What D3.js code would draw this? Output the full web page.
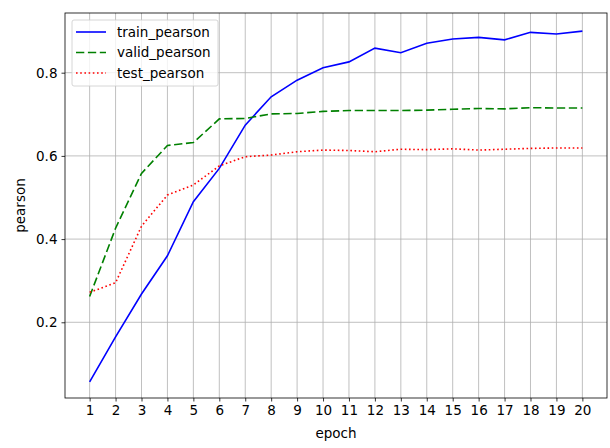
<!DOCTYPE html>
<html>
<head>
<meta charset="utf-8">
<script src="https://cdn.jsdelivr.net/npm/d3@7"></script>
<style>
    body { margin: 0; background: #fff; }
    svg text { font-family: 'DejaVu Sans', sans-serif; fill: #000; }
    .tick text { font-size: 13.5px; }
    .axis-label { font-size: 13.5px; }
    .legend text { font-size: 13.5px; }
</style>
</head>
<body>
<div id="vis"></div>
<script>
const epochs = d3.range(1, 21);

const trainPearson = [0.057, 0.165, 0.268, 0.360, 0.490, 0.570, 0.674, 0.742, 0.782, 0.812,
    0.826, 0.859, 0.848, 0.871, 0.881, 0.885, 0.879, 0.897, 0.893, 0.900];
const validPearson = [0.262, 0.426, 0.558, 0.625, 0.632, 0.689, 0.690, 0.701, 0.702, 0.707,
    0.709, 0.709, 0.709, 0.710, 0.712, 0.714, 0.713, 0.716, 0.715, 0.715];
const testPearson = [0.272, 0.295, 0.431, 0.506, 0.530, 0.576, 0.598, 0.602, 0.610, 0.614,
    0.613, 0.610, 0.616, 0.615, 0.617, 0.614, 0.616, 0.618, 0.619, 0.619];

const yTicks = [0.2, 0.4, 0.6, 0.8];

const series = [
    { name: 'train_pearson', values: trainPearson, color: '#0000ff', dash: null },
    { name: 'valid_pearson', values: validPearson, color: '#008000', dash: '8.3,3.6' },
    { name: 'test_pearson', values: testPearson, color: '#ff0000', dash: '1.6,2.6' }
];

const width = 610;
const height = 448;
const margin = { top: 13, right: 3, bottom: 50, left: 65 };

const svg = d3.select('#vis')
    .append('svg')
    .attr('width', width)
    .attr('height', height);

const x = d3.scaleLinear()
    .domain([0.05, 20.95])
    .range([margin.left, width - margin.right]);

const y = d3.scaleLinear()
    .domain([0.018, 0.9435])
    .range([height - margin.bottom, margin.top]);

// grid
svg.append('g')
    .selectAll('line')
    .data(epochs)
    .join('line')
    .attr('x1', d => x(d)).attr('x2', d => x(d))
    .attr('y1', margin.top).attr('y2', height - margin.bottom)
    .attr('stroke', '#b0b0b0')
    .attr('stroke-width', 0.8);

svg.append('g')
    .selectAll('line')
    .data(yTicks)
    .join('line')
    .attr('x1', margin.left).attr('x2', width - margin.right)
    .attr('y1', d => y(d)).attr('y2', d => y(d))
    .attr('stroke', '#b0b0b0')
    .attr('stroke-width', 0.8);

// axes
const xAxis = g => g
    .attr('transform', `translate(0,${height - margin.bottom})`)
    .call(d3.axisBottom(x).tickValues(epochs).tickFormat(d3.format('d')).tickSizeOuter(0).tickSize(3.5).tickPadding(4))
    .call(g => g.select('.domain').remove())
    .call(g => g.selectAll('.tick line').attr('stroke', '#000').attr('stroke-width', 0.8));

const yAxis = g => g
    .attr('transform', `translate(${margin.left},0)`)
    .call(d3.axisLeft(y).tickValues(yTicks).tickFormat(d3.format('.1f')).tickSizeOuter(0).tickSize(3.5).tickPadding(4))
    .call(g => g.select('.domain').remove())
    .call(g => g.selectAll('.tick line').attr('stroke', '#000').attr('stroke-width', 0.8));

svg.append('g').call(xAxis);
svg.append('g').call(yAxis);

// frame
svg.append('rect')
    .attr('x', margin.left)
    .attr('y', margin.top)
    .attr('width', width - margin.right - margin.left)
    .attr('height', height - margin.bottom - margin.top)
    .attr('fill', 'none')
    .attr('stroke', '#000')
    .attr('stroke-width', 0.8);

// lines
const lineFunc = d3.line()
    .x((d, i) => x(epochs[i]))
    .y(d => y(d));

svg.append('g')
    .selectAll('path')
    .data(series)
    .join('path')
    .attr('d', d => lineFunc(d.values))
    .attr('fill', 'none')
    .attr('stroke', d => d.color)
    .attr('stroke-width', 1.6)
    .attr('stroke-dasharray', d => d.dash);

// axis labels
svg.append('text')
    .attr('class', 'axis-label')
    .attr('text-anchor', 'middle')
    .attr('x', (margin.left + width - margin.right) / 2)
    .attr('y', 438)
    .text('epoch');

svg.append('text')
    .attr('class', 'axis-label')
    .attr('text-anchor', 'middle')
    .attr('transform', `translate(25,${(margin.top + height - margin.bottom) / 2}) rotate(-90)`)
    .text('pearson');

// legend
const legend = svg.append('g').attr('class', 'legend');
legend.append('rect')
    .attr('x', 72).attr('y', 20)
    .attr('width', 146).attr('height', 66)
    .attr('rx', 2)
    .attr('fill', '#fff')
    .attr('fill-opacity', 0.8)
    .attr('stroke', '#cccccc')
    .attr('stroke-width', 0.8);

const items = legend.selectAll('g.item')
    .data(series)
    .join('g')
    .attr('class', 'item')
    .attr('transform', (d, i) => `translate(0,${32 + i * 20.5})`);

items.append('line')
    .attr('x1', 76).attr('x2', 106)
    .attr('stroke', d => d.color)
    .attr('stroke-width', 1.6)
    .attr('stroke-dasharray', d => d.dash);

items.append('text')
    .attr('x', 117)
    .attr('dy', '0.35em')
    .text(d => d.name);
</script>
</body>
</html>
